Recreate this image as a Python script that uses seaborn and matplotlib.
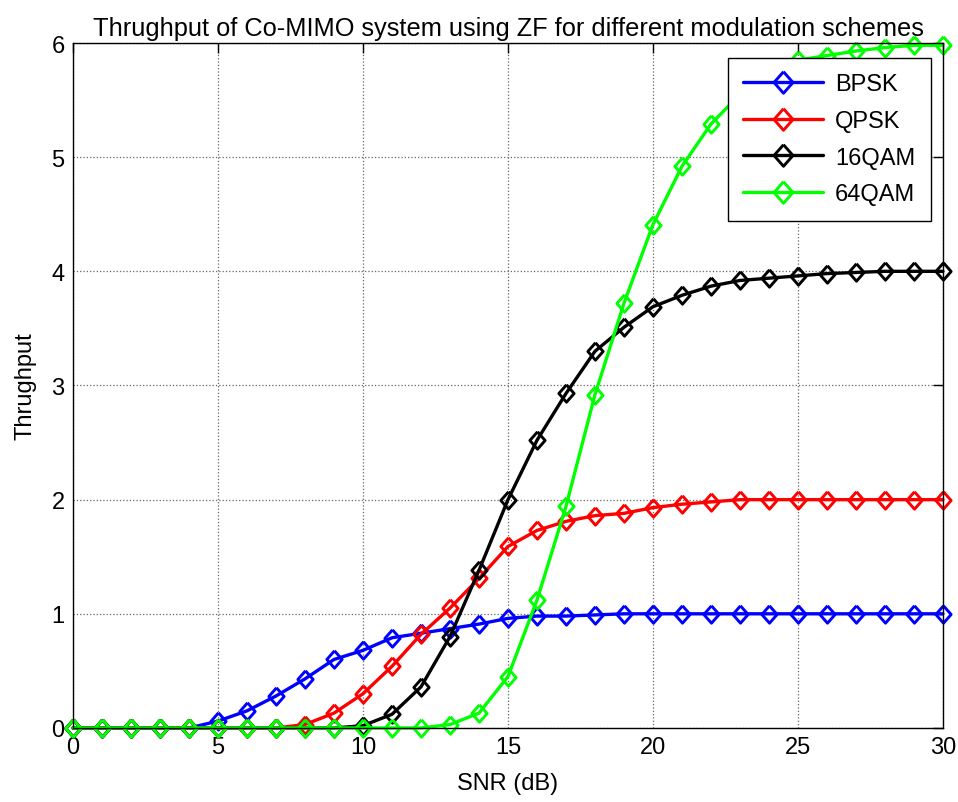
import numpy as np
import pandas as pd
import matplotlib
matplotlib.use("Agg")
import matplotlib.pyplot as plt
import seaborn as sns

snr = list(range(0, 31))
bpsk = [0, 0, 0, 0, 0, 0.06, 0.15, 0.28, 0.43, 0.60, 0.68, 0.79, 0.83, 0.87, 0.91, 0.96, 0.98, 0.98,
        0.99, 1.0, 1.0, 1.0, 1.0, 1.0, 1.0, 1.0, 1.0, 1.0, 1.0, 1.0, 1.0]
qpsk = [0, 0, 0, 0, 0, 0, 0, 0, 0.03, 0.13, 0.30, 0.54, 0.82, 1.05, 1.31, 1.59, 1.73, 1.81,
        1.86, 1.88, 1.93, 1.96, 1.98, 2.0, 2.0, 2.0, 2.0, 2.0, 2.0, 2.0, 2.0]
qam16 = [0, 0, 0, 0, 0, 0, 0, 0, 0, 0, 0.02, 0.12, 0.36, 0.80, 1.38, 2.0, 2.52, 2.93,
         3.30, 3.51, 3.69, 3.79, 3.87, 3.92, 3.94, 3.96, 3.98, 3.99, 4.0, 4.0, 4.0]
qam64 = [0, 0, 0, 0, 0, 0, 0, 0, 0, 0, 0, 0, 0, 0.03, 0.13, 0.45, 1.12, 1.94,
         2.92, 3.72, 4.41, 4.92, 5.29, 5.55, 5.72, 5.85, 5.89, 5.93, 5.96, 5.98, 5.98]
labels = ["BPSK", "QPSK", "16QAM", "64QAM"]
colors = ["#0000ff", "#ff0000", "#000000", "#00ff00"]
xticks = [0, 5, 10, 15, 20, 25, 30]
yticks = [0, 1, 2, 3, 4, 5, 6]

sns.set_style("white")
plt.rcParams['font.family'] = ['Liberation Sans', 'DejaVu Sans']
plt.rcParams['text.color'] = 'black'
plt.rcParams['axes.labelcolor'] = 'black'
plt.rcParams['xtick.color'] = 'black'
plt.rcParams['ytick.color'] = 'black'

df = pd.concat([
    pd.DataFrame({"SNR": snr, "Thr": vals, "Scheme": lab})
    for vals, lab in zip([bpsk, qpsk, qam16, qam64], labels)
])

diamond = [(0, 1), (0.88, 0), (0, -1), (-0.88, 0), (0, 1)]
MS = 12.5
MEW = 2.1
LW = 2.4

fig = plt.figure(figsize=(9.58, 8.03), dpi=100)
ax = fig.add_axes([0.0762, 0.0922, 0.9081, 0.853])

sns.lineplot(data=df, x="SNR", y="Thr", hue="Scheme", hue_order=labels,
             palette=colors, marker=diamond, markersize=MS, markerfacecolor="none",
             markeredgewidth=MEW, linewidth=LW, dashes=False, ax=ax, clip_on=False)
for line, c in zip(ax.get_lines(), colors):
    line.set_markeredgecolor(c)
    line.set_markerfacecolor("none")

ax.set_xlim(0, 30)
ax.set_ylim(0, 6)
ax.set_xticks(xticks)
ax.set_yticks(yticks)
ax.grid(True, color="#666666", linestyle=":", linewidth=0.9)
for s in ax.spines.values():
    s.set_color("black")
    s.set_linewidth(1.0)
ax.tick_params(direction="in", length=7, width=1, labelsize=17, top=True, right=True,
               colors="black", pad=6)
ax.set_xlabel("SNR (dB)", fontsize=17, labelpad=10, color="black")
ax.set_ylabel("Thrughput", fontsize=17, labelpad=11, color="black")
ax.set_title("Thrughput of Co-MIMO system using ZF for different modulation schemes",
             fontsize=18.3, pad=6, color="black")

handles, _ = ax.get_legend_handles_labels()
for h, c in zip(handles, colors):
    h.set_markeredgecolor(c)
    h.set_markerfacecolor("none")
    h.set_markersize(MS + 3)
    h.set_markeredgewidth(MEW)
    h.set_linewidth(LW)
leg = ax.legend(handles, labels, loc="upper right", bbox_to_anchor=(0.986, 0.978),
                fontsize=17, frameon=True, fancybox=False, edgecolor="black",
                framealpha=1, handlelength=3.4, handletextpad=0.5,
                borderpad=0.65, labelspacing=0.62, borderaxespad=0)
leg.get_frame().set_linewidth(1.0)
for t in leg.get_texts():
    t.set_color("black")

fig.savefig("out.png", dpi=100)
